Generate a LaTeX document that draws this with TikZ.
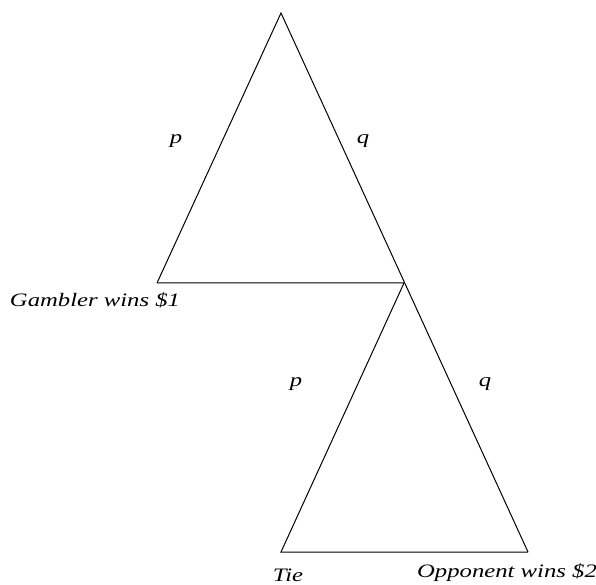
\documentclass[tikz,border=0pt]{standalone}
\usepackage{fontspec}
\newfontfamily\lblfont[FakeStretch=1.3]{Liberation Serif}
\begin{document}
\begin{tikzpicture}[x=1pt, y=1pt, line width=1pt,
    lbl/.style={font=\lblfont\fontsize{19}{22}\selectfont\itshape, inner sep=0pt}]
  \useasboundingbox (0,0) rectangle (596,584);
  \coordinate (top) at (281,571);
  \coordinate (gw) at (157,301);
  \coordinate (mid) at (404,301);
  \coordinate (tie) at (281,32);
  \coordinate (ow) at (528,32);
  \draw (gw) -- (top) -- (ow);
  \draw (gw) -- (mid) -- (tie) -- (ow);
  \node[lbl] (p1) at (176,443) {p};
  \node[lbl] (q1) at (363,443) {q};
  \node[lbl] (p2) at (296,200) {p};
  \node[lbl] (q2) at (485,200) {q};
  \node[lbl] (gwl) at (95,284) {Gambler wins \$1};
  \node[lbl] (tiel) at (288,9) {Tie};
  \node[lbl] (owl) at (507,11) {Opponent wins \$2};
\end{tikzpicture}
\end{document}
